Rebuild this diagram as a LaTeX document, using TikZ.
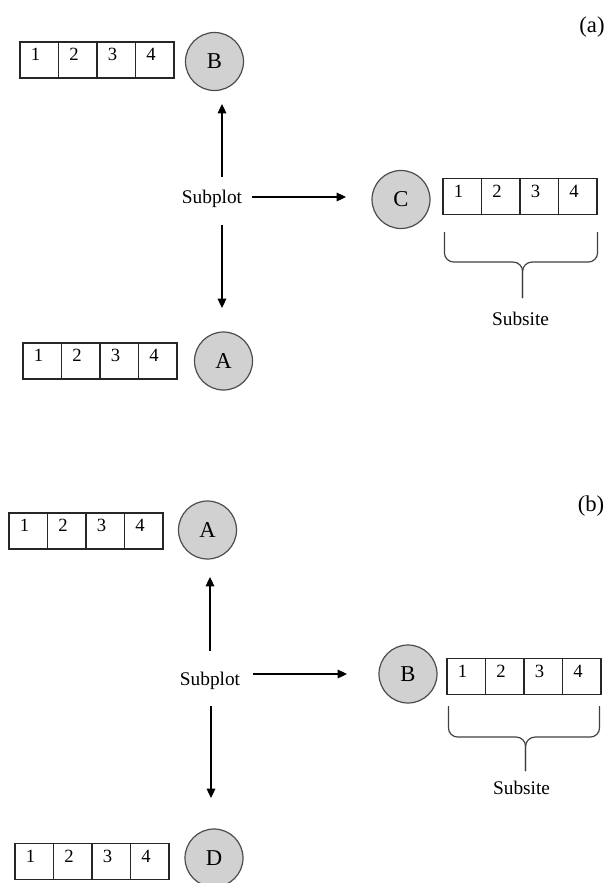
\documentclass[tikz,border=0pt]{standalone}
\usepackage{fontspec}
\setmainfont{Liberation Serif}
\usetikzlibrary{calc}
\usetikzlibrary{arrows.meta}

\begin{document}
\begin{tikzpicture}[x=0.75pt, y=-0.75pt]
        % ================= 样式 =================
        \tikzset{
            % 灰色圆 (site)
            site/.style={circle, draw=black!70, line width=0.9pt, fill=black!18, minimum size=43.5pt, inner sep=0pt, font=\fontsize{17}{19}\selectfont},
            % 条带中的一格
            cell/.style={rectangle, draw=black!85, line width=0.85pt, minimum width=28.9pt, minimum height=27pt, inner sep=0pt},
            num/.style={font=\fontsize{14}{16}\selectfont, xshift=-2.8pt, yshift=4pt},
            word/.style={font=\fontsize{14.5}{16}\selectfont, inner sep=1pt},
            tag/.style={font=\fontsize{17}{19}\selectfont, inner sep=0pt},
            arr/.style={-{Triangle[length=7pt, width=6.5pt]}, line width=0.85pt},
            brace_line/.style={line width=0.9pt, black!75, rounded corners=7pt}
        }

        \useasboundingbox (0,0) rectangle (606,883);

        % ================= 条带 1-2-3-4 =================
        \foreach \nm/\xl/\yc in {aB/20/60, aC/443/196.5, aA/23/361, bA/9/531, bB/447/676.5, bD/15/861.5} {
            \foreach \i in {1,...,4} {
                \node[cell] (\nm\i) at ({\xl+(\i-0.5)*38.5}, \yc) {};
                \node[num] at (\nm\i) {\i};
            }
        }

        % ================= (a) =================
        \node[tag] (taga) at (592, 27) {(a)};
        \node[site] (aB) at (214.5, 61.5) {B};
        \node[site] (aC) at (401, 199.5) {C};
        \node[site] (aA) at (223.5, 361) {A};
        \node[word] (sa) at (212, 198.5) {Subplot};

        \draw[arr] ($(sa)+(10,-21.5)$) -- ($(aB)+(7.5,42.5)$);
        \draw[arr] ($(sa)+(10,26.5)$) -- ($(aA)+(-1.5,-53)$);
        \draw[arr] ($(sa)+(40,-1.5)$) -- ($(aC)+(-55,-2.5)$);

        % 花括号
        \coordinate (mida) at ($(aC2.south east)+(2,47)$);
        \coordinate (tipa) at ($(aC2.south east)+(2,83)$);
        \draw[brace_line] ($(aC1.south west)+(2,17)$) |- (mida) -- (tipa);
        \draw[brace_line] ($(aC4.south east)+(0,17)$) |- (mida) -- (tipa);
        \node[word] (ssa) at ($(tipa)+(-2,21)$) {Subsite};

        % ================= (b) =================
        \node[tag] (tagb) at (591, 506) {(b)};
        \node[site] (bA) at (207.5, 530) {A};
        \node[site] (bB) at (408, 674) {B};
        \node[site] (bD) at (214, 858) {D};
        \node[word] (sb) at (210, 681) {Subplot};

        \draw[arr] ($(sb)+(0,-30)$) -- ($(bA)+(2.5,47)$);
        \draw[arr] ($(sb)+(1,25)$) -- ($(bD)+(-3,-60)$);
        \draw[arr] ($(sb)+(43,-7)$) -- ($(bB)+(-61,0)$);

        % 花括号
        \coordinate (midb) at ($(bB2.south east)+(1,42)$);
        \coordinate (tipb) at ($(bB2.south east)+(1,76)$);
        \draw[brace_line] ($(bB1.south west)+(2,11)$) |- (midb) -- (tipb);
        \draw[brace_line] ($(bB4.south east)+(-2,11)$) |- (midb) -- (tipb);
        \node[word] (ssb) at ($(tipb)+(-4,17)$) {Subsite};

    \end{tikzpicture}
\end{document}
